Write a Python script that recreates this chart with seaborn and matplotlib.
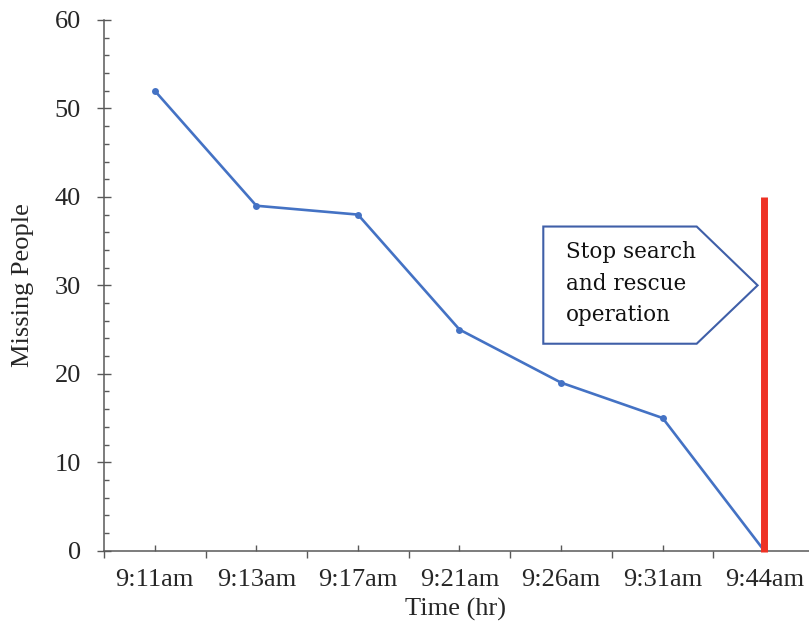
import matplotlib
matplotlib.use('Agg')
import pandas as pd
import seaborn as sns
from matplotlib import pyplot as plt
from matplotlib.patches import Polygon
from matplotlib.ticker import FixedLocator, MultipleLocator

times = ['9:11am', '9:13am', '9:17am', '9:21am', '9:26am', '9:31am', '9:44am']
missing = [52, 39, 38, 25, 19, 15, 0]
stop_idx = 6          # where the search is stopped
stop_top = 40         # height of the red marker line
callout_y = 30        # level the callout points at
callout_text = 'Stop search\nand rescue\noperation'


def plot_missing():
    sns.set_theme(style='white')
    plt.rcParams['font.family'] = ['Liberation Serif', 'DejaVu Serif']

    df = pd.DataFrame({'Time (hr)': times, 'Missing People': missing})
    df['pos'] = range(len(df))

    fig = plt.figure(figsize=(8.09, 6.33), dpi=100)
    ax = fig.add_axes([104 / 809, 1 - 550.7 / 633, 711 / 809, 530.7 / 633])

    sns.lineplot(data=df, x='pos', y='Missing People', ax=ax, color='#4472C4',
                 linewidth=1.9, marker='o', markersize=5, markeredgewidth=0)

    # red "stop" line
    ax.vlines(stop_idx, -0.2, stop_top, color='#EE3124', linewidth=5, zorder=4,
              capstyle='butt', clip_on=False)

    # pentagon callout pointing at the red line
    tip_x = stop_idx - 0.065
    verts = [(tip_x - 2.11, callout_y + 6.65), (tip_x - 0.6, callout_y + 6.65),
             (tip_x, callout_y), (tip_x - 0.6, callout_y - 6.6),
             (tip_x - 2.11, callout_y - 6.6)]
    ax.add_patch(Polygon(verts, closed=True, facecolor='white', edgecolor='#3F5FA8',
                         linewidth=1.5, zorder=3))
    ax.text(tip_x - 1.89, callout_y + 0.2, callout_text, ha='left', va='center',
            fontsize=15.5, family=['DejaVu Serif'], linespacing=1.55, color='#111111',
            zorder=5)

    ax.set_xlim(-0.5, len(times) - 0.5)
    ax.set_ylim(0, 60)

    # x: labels at the categories (inner ticks), outer ticks between them
    ax.xaxis.set_major_locator(FixedLocator(list(range(len(times)))))
    ax.set_xticklabels(times)
    ax.xaxis.set_minor_locator(FixedLocator([i - 0.5 for i in range(len(times) + 1)]))
    ax.tick_params(axis='x', which='major', direction='in', length=4.5, width=1,
                   color='#595959', pad=13, labelsize=19, bottom=True)
    ax.tick_params(axis='x', which='minor', direction='out', length=4.8, width=1,
                   color='#595959', bottom=True)

    ax.yaxis.set_major_locator(MultipleLocator(10))
    ax.yaxis.set_minor_locator(MultipleLocator(2))
    ax.tick_params(axis='y', which='major', direction='inout', length=9.4, width=1,
                   color='#595959', pad=12, labelsize=19, left=True)
    ax.tick_params(axis='y', which='minor', direction='in', length=3.8, width=1,
                   color='#595959', left=True)

    for s in ['top', 'right']:
        ax.spines[s].set_visible(False)
    for s in ['left', 'bottom']:
        ax.spines[s].set_color('#595959')
        ax.spines[s].set_linewidth(1.1)

    ax.set_xlabel('Time (hr)', fontsize=19)
    ax.set_ylabel('Missing People', fontsize=19)
    ax.xaxis.set_label_coords(0.494, -0.089)
    ax.yaxis.set_label_coords(-0.098, 0.5)

    fig.savefig('out.png', dpi=100)


if __name__ == '__main__':
    plot_missing()
